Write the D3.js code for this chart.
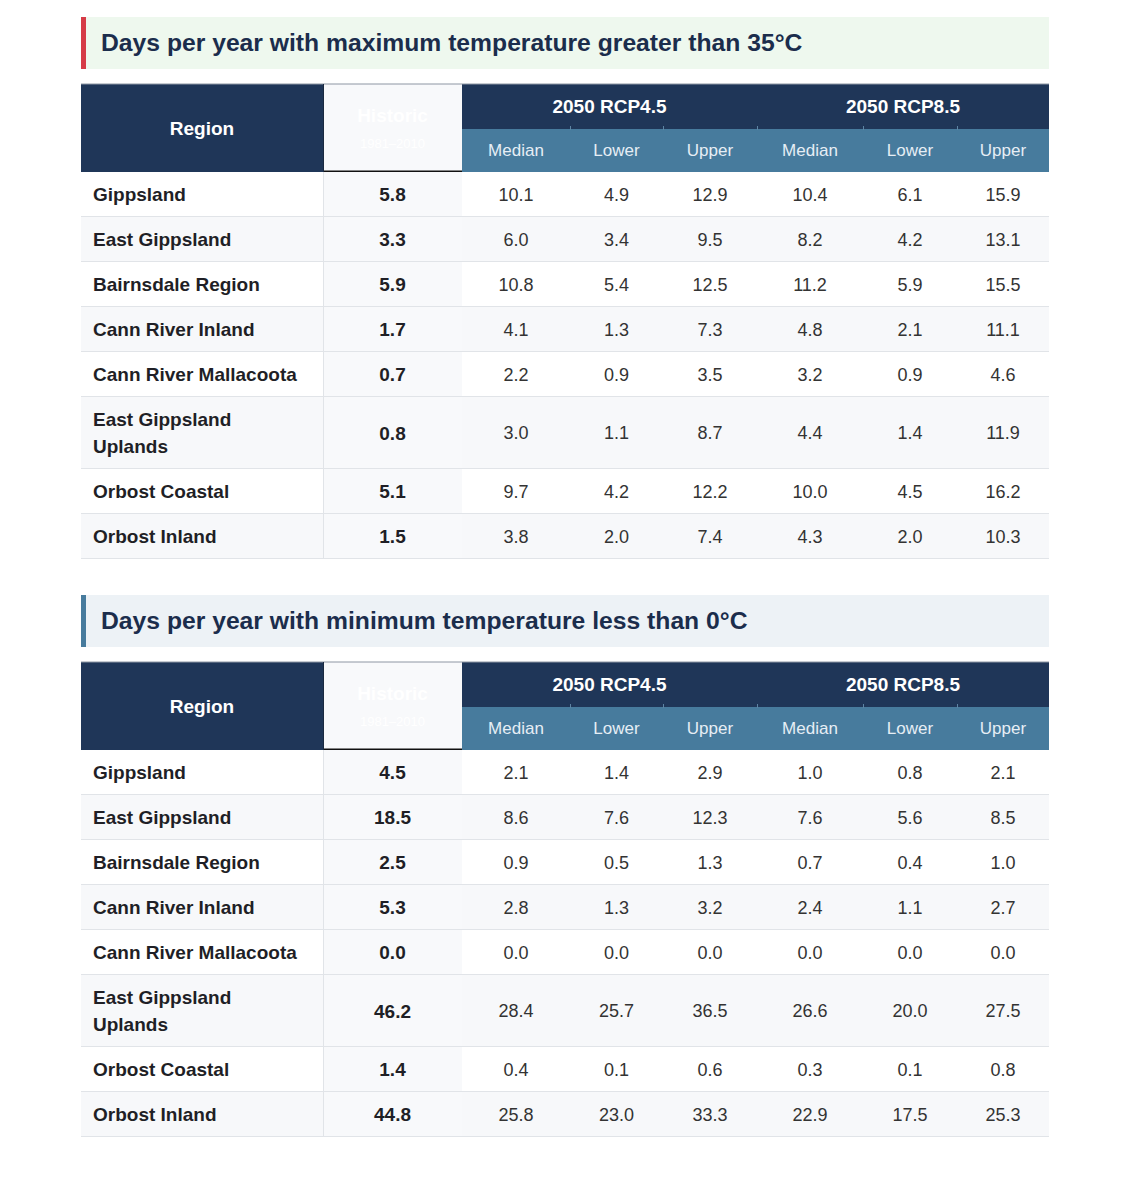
<!DOCTYPE html>
<html>
<head>
<meta charset="utf-8">
<script src="https://cdn.jsdelivr.net/npm/d3@7"></script>
<style>
  html, body { margin: 0; padding: 0; background: #ffffff; }
  svg { display: block; font-family: "Liberation Sans", Arial, Helvetica, sans-serif; }
</style>
</head>
<body>
<svg id="chart" width="1131" height="1179"></svg>
<script>
// ---------------- DATA ----------------
const regions = ["Gippsland", "East Gippsland", "Bairnsdale Region", "Cann River Inland",
  "Cann River Mallacoota", "East Gippsland Uplands", "Orbost Coastal", "Orbost Inland"];
const scenarios = ["2050 RCP4.5", "2050 RCP8.5"];
const measures = ["Median", "Lower", "Upper"];
const historicLabel = "Historic";
const historicPeriod = "1981–2010";
const regionHeader = "Region";

const titleHot = "Days per year with maximum temperature greater than 35°C";
const hotHistoric   = [5.8, 3.3, 5.9, 1.7, 0.7, 0.8, 5.1, 1.5];
const hotRcp45Median = [10.1, 6.0, 10.8, 4.1, 2.2, 3.0, 9.7, 3.8];
const hotRcp45Lower  = [4.9, 3.4, 5.4, 1.3, 0.9, 1.1, 4.2, 2.0];
const hotRcp45Upper  = [12.9, 9.5, 12.5, 7.3, 3.5, 8.7, 12.2, 7.4];
const hotRcp85Median = [10.4, 8.2, 11.2, 4.8, 3.2, 4.4, 10.0, 4.3];
const hotRcp85Lower  = [6.1, 4.2, 5.9, 2.1, 0.9, 1.4, 4.5, 2.0];
const hotRcp85Upper  = [15.9, 13.1, 15.5, 11.1, 4.6, 11.9, 16.2, 10.3];

const titleFrost = "Days per year with minimum temperature less than 0°C";
const frostHistoric   = [4.5, 18.5, 2.5, 5.3, 0.0, 46.2, 1.4, 44.8];
const frostRcp45Median = [2.1, 8.6, 0.9, 2.8, 0.0, 28.4, 0.4, 25.8];
const frostRcp45Lower  = [1.4, 7.6, 0.5, 1.3, 0.0, 25.7, 0.1, 23.0];
const frostRcp45Upper  = [2.9, 12.3, 1.3, 3.2, 0.0, 36.5, 0.6, 33.3];
const frostRcp85Median = [1.0, 7.6, 0.7, 2.4, 0.0, 26.6, 0.3, 22.9];
const frostRcp85Lower  = [0.8, 5.6, 0.4, 1.1, 0.0, 20.0, 0.1, 17.5];
const frostRcp85Upper  = [2.1, 8.5, 1.0, 2.7, 0.0, 27.5, 0.8, 25.3];

// ---------------- LAYOUT ----------------
const svg = d3.select("#chart");
const fmt = d3.format(".1f");
const colKeys = ["region", "historic", "m45", "l45", "u45", "m85", "l85", "u85"];
const colWidths = [242, 139, 108, 93, 94, 106, 94, 92];
const tableLeft = 81;
const colEdges = [tableLeft, ...d3.cumsum(colWidths).map(v => v + tableLeft)];
const xLeft = d3.scaleOrdinal().domain(colKeys).range(colEdges.slice(0, -1));
const xWidth = d3.scaleOrdinal().domain(colKeys).range(colWidths);
const xCenter = k => xLeft(k) + xWidth(k) / 2;
const tableRight = colEdges[colEdges.length - 1];

const C = {
  navy: "#1f3658", steel: "#477b9d", title: "#1b2d4c", text: "#333333",
  label: "#1f1f26", alt: "#f7f8fa", line: "#e1e4e8", histBg: "#f8f9fb"
};
const BOLD = 19;

// measure text width helper
const measurer = svg.append("text").attr("font-size", BOLD).attr("font-weight", "bold").attr("visibility", "hidden");
function wrapLabel(str, maxW) {
  const words = str.split(" ");
  const lines = [];
  let cur = "";
  words.forEach(w => {
    const test = cur ? cur + " " + w : w;
    measurer.text(test);
    if (measurer.node().getComputedTextLength() > maxW && cur) { lines.push(cur); cur = w; }
    else cur = test;
  });
  if (cur) lines.push(cur);
  return lines;
}

function drawTable(top, title, accent, titleBg, cols) {
  const g = svg.append("g");
  // title bar
  g.append("rect").attr("x", tableLeft).attr("y", top).attr("width", tableRight - tableLeft).attr("height", 52).attr("fill", titleBg);
  g.append("rect").attr("x", tableLeft).attr("y", top).attr("width", 5).attr("height", 52).attr("fill", accent);
  g.append("text").attr("x", 101).attr("y", top + 25.5).attr("dy", "0.35em")
    .attr("font-size", 24.7).attr("font-weight", "bold").attr("fill", C.title).text(title);

  const hTop = top + 67;
  const h1 = 45, h2 = 43;
  const bodyTop = hTop + h1 + h2;

  // header backgrounds
  g.append("rect").attr("x", tableLeft).attr("y", hTop).attr("width", xWidth("region")).attr("height", h1 + h2).attr("fill", C.navy);
  g.append("rect").attr("x", xLeft("historic")).attr("y", hTop).attr("width", xWidth("historic")).attr("height", h1 + h2).attr("fill", C.histBg);
  g.append("rect").attr("x", xLeft("m45")).attr("y", hTop).attr("width", tableRight - xLeft("m45")).attr("height", h1).attr("fill", C.navy);
  g.append("rect").attr("x", xLeft("m45")).attr("y", hTop + h1).attr("width", tableRight - xLeft("m45")).attr("height", h2).attr("fill", C.steel);
  g.append("line").attr("x1", tableLeft).attr("x2", tableRight).attr("y1", hTop).attr("y2", hTop).attr("stroke", "#8d96a3").attr("stroke-width", 1);
  g.append("line").attr("x1", xLeft("historic")).attr("x2", xLeft("m45")).attr("y1", bodyTop - 0.75).attr("y2", bodyTop - 0.75).attr("stroke", "#111").attr("stroke-width", 1.5);
  g.append("line").attr("x1", xLeft("historic") + 0.5).attr("x2", xLeft("historic") + 0.5).attr("y1", hTop).attr("y2", bodyTop).attr("stroke", "#1a2a40").attr("stroke-width", 1);
  // faint ticks between sub columns
  colKeys.slice(3).forEach(k => {
    g.append("line").attr("x1", xLeft(k) + 0.5).attr("x2", xLeft(k) + 0.5).attr("y1", hTop + h1 - 3).attr("y2", hTop + h1 + 1)
      .attr("stroke", "#5d84a3").attr("stroke-width", 1);
  });

  g.append("text").attr("x", xCenter("region")).attr("y", hTop + (h1 + h2) / 2).attr("dy", "0.35em")
    .attr("text-anchor", "middle").attr("font-size", BOLD).attr("font-weight", "bold").attr("fill", "#ffffff").text(regionHeader);
  g.append("text").attr("x", xCenter("historic")).attr("y", hTop + 31).attr("dy", "0.35em")
    .attr("text-anchor", "middle").attr("font-size", BOLD).attr("font-weight", "bold").attr("fill", "#ffffff").text(historicLabel);
  g.append("text").attr("x", xCenter("historic")).attr("y", hTop + 59).attr("dy", "0.35em")
    .attr("text-anchor", "middle").attr("font-size", 13).attr("fill", "#ffffff").text(historicPeriod);

  const groupKeys = [["m45", "l45", "u45"], ["m85", "l85", "u85"]];
  scenarios.forEach((s, i) => {
    const ks = groupKeys[i];
    const x0 = xLeft(ks[0]), x1 = xLeft(ks[2]) + xWidth(ks[2]);
    g.append("text").attr("x", (x0 + x1) / 2).attr("y", hTop + h1 / 2).attr("dy", "0.35em")
      .attr("text-anchor", "middle").attr("font-size", BOLD).attr("font-weight", "bold").attr("fill", "#ffffff").text(s);
    ks.forEach((k, j) => {
      g.append("text").attr("x", xCenter(k)).attr("y", hTop + h1 + h2 / 2).attr("dy", "0.35em")
        .attr("text-anchor", "middle").attr("font-size", 17).attr("fill", "#e6eef5").text(measures[j]);
    });
  });

  // rows
  const labelLines = regions.map(r => wrapLabel(r, 210));
  const heights = labelLines.map(l => l.length > 1 ? 72 : 45);
  const tops = [bodyTop, ...d3.cumsum(heights).map(v => v + bodyTop)];

  regions.forEach((r, i) => {
    const y0 = tops[i], h = heights[i], cy = y0 + h / 2;
    const rg = g.append("g");
    rg.append("rect").attr("x", tableLeft).attr("y", y0).attr("width", tableRight - tableLeft).attr("height", h)
      .attr("fill", i % 2 === 1 ? C.alt : "#ffffff");
    rg.append("rect").attr("x", xLeft("historic")).attr("y", y0).attr("width", xWidth("historic")).attr("height", h)
      .attr("fill", C.histBg);
    rg.append("line").attr("x1", xLeft("historic") + 0.5).attr("x2", xLeft("historic") + 0.5).attr("y1", y0).attr("y2", y0 + h)
      .attr("stroke", C.line);
    rg.append("line").attr("x1", tableLeft).attr("x2", tableRight).attr("y1", y0 + h - 0.5).attr("y2", y0 + h - 0.5)
      .attr("stroke", C.line).attr("stroke-width", 1);

    const lines = labelLines[i];
    const lh = 27;
    lines.forEach((ln, j) => {
      rg.append("text").attr("x", 93).attr("y", cy + (j - (lines.length - 1) / 2) * lh).attr("dy", "0.35em")
        .attr("font-size", BOLD).attr("font-weight", "bold").attr("fill", C.label).text(ln);
    });
    rg.append("text").attr("x", xCenter("historic")).attr("y", cy).attr("dy", "0.35em")
      .attr("text-anchor", "middle").attr("font-size", BOLD).attr("font-weight", "bold").attr("fill", C.label)
      .text(fmt(cols.historic[i]));
    ["m45", "l45", "u45", "m85", "l85", "u85"].forEach(k => {
      rg.append("text").attr("x", xCenter(k)).attr("y", cy).attr("dy", "0.35em")
        .attr("text-anchor", "middle").attr("font-size", 18).attr("fill", C.text)
        .text(fmt(cols[k][i]));
    });
  });
}

drawTable(17, titleHot, "#d63b47", "#eef8ee", {
  historic: hotHistoric, m45: hotRcp45Median, l45: hotRcp45Lower, u45: hotRcp45Upper,
  m85: hotRcp85Median, l85: hotRcp85Lower, u85: hotRcp85Upper
});
drawTable(595, titleFrost, "#477b9d", "#edf2f6", {
  historic: frostHistoric, m45: frostRcp45Median, l45: frostRcp45Lower, u45: frostRcp45Upper,
  m85: frostRcp85Median, l85: frostRcp85Lower, u85: frostRcp85Upper
});
measurer.remove();
</script>
</body>
</html>
